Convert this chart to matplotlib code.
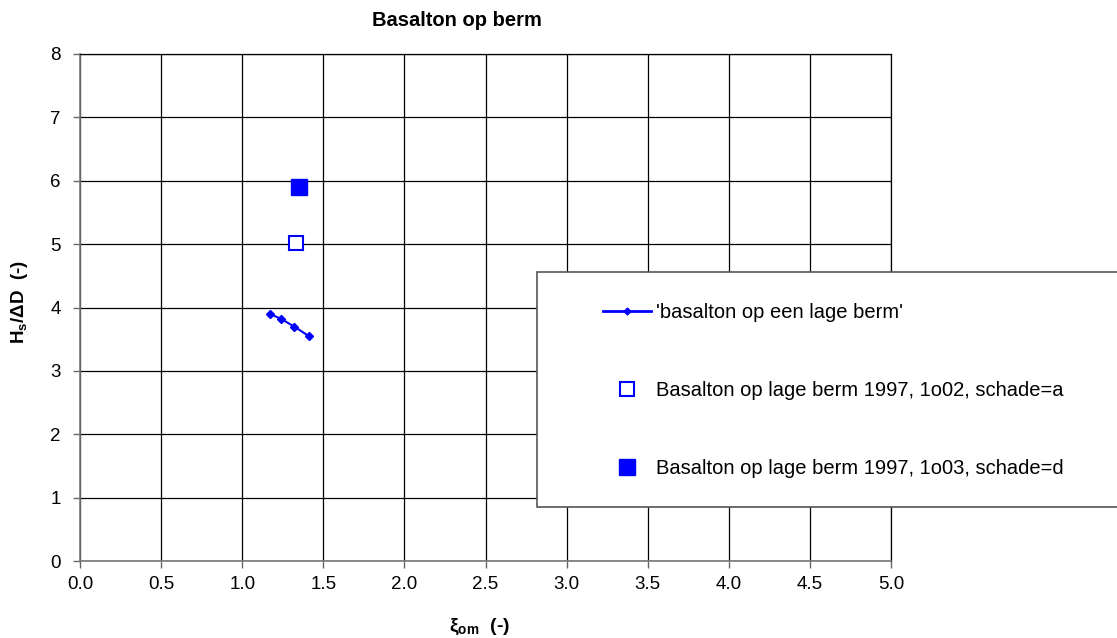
import matplotlib
matplotlib.use("Agg")
import matplotlib.pyplot as plt
from matplotlib.patches import Rectangle
from matplotlib.lines import Line2D

plt.rcParams["font.family"] = ["Liberation Sans", "DejaVu Sans"]
plt.rcParams["mathtext.fontset"] = "custom"
plt.rcParams["mathtext.rm"] = "Liberation Sans"
plt.rcParams["mathtext.it"] = "Liberation Sans"
plt.rcParams["mathtext.bf"] = "Liberation Sans:bold"

# ── Data ──────────────────────────────────────────────────────
lage_berm_xi = [1.17, 1.24, 1.32, 1.41]
lage_berm_hs = [3.90, 3.82, 3.70, 3.55]

test_1o02_xi = [1.33]
test_1o02_hs = [5.02]

test_1o03_xi = [1.35]
test_1o03_hs = [5.90]

labels = [
    "'basalton op een lage berm'",
    "Basalton op lage berm 1997, 1o02, schade=a",
    "Basalton op lage berm 1997, 1o03, schade=d",
]
x_ticks = [0.0, 0.5, 1.0, 1.5, 2.0, 2.5, 3.0, 3.5, 4.0, 4.5, 5.0]
y_ticks = [0, 1, 2, 3, 4, 5, 6, 7, 8]

BLUE = "#0000ff"

fig = plt.figure(figsize=(11.17, 6.38), dpi=100, facecolor="white")
ax = fig.add_axes([80 / 1117, 1 - 561 / 638, 811 / 1117, 507 / 638])

ax.plot(lage_berm_xi, lage_berm_hs, color=BLUE, lw=1.5,
        marker="D", ms=4, zorder=3)
ax.plot(test_1o02_xi, test_1o02_hs, ls="none", marker="s", ms=10,
        mfc="white", mec=BLUE, mew=1.5, zorder=3)
ax.plot(test_1o03_xi, test_1o03_hs, ls="none", marker="s", ms=11,
        mfc=BLUE, mec=BLUE, zorder=3)

ax.set_xlim(0, 5)
ax.set_ylim(0, 8)
ax.set_xticks(x_ticks)
ax.set_yticks(y_ticks)
ax.set_xticklabels([f"{v:.1f}" for v in x_ticks])
ax.set_yticklabels([str(v) for v in y_ticks])
ax.tick_params(direction="out", length=5, width=1, colors="#666666",
               labelcolor="black", labelsize=13.5)
ax.tick_params(axis="x", pad=6)
ax.tick_params(axis="y", pad=9)
ax.grid(True, color="black", lw=0.9)
ax.set_axisbelow(True)
for side in ("left", "bottom"):
    ax.spines[side].set_color("#777777")
    ax.spines[side].set_linewidth(1.2)
for side in ("top", "right"):
    ax.spines[side].set_color("black")
    ax.spines[side].set_linewidth(0.9)

fig.text(457 / 1117, 1 - 21 / 638, "Basalton op berm", ha="center",
         va="center", fontsize=14.5, fontweight="bold")
fig.text(480 / 1117, 1 - 627 / 638, r"$\mathbf{ξ_{om}}$  (-)", ha="center",
         va="center", fontsize=14, fontweight="bold")
fig.text(20 / 1117, 1 - 302 / 638, r"$\mathbf{H_s/ΔD}$  (-)", ha="center",
         va="center", fontsize=13.5, fontweight="bold", rotation=90)

# legend box runs past the right edge of the figure
box = Rectangle((537 / 1117, 1 - 507 / 638), 700 / 1117, 235 / 638,
                transform=fig.transFigure, facecolor="white",
                edgecolor="#555555", lw=1.2, zorder=2)
fig.patches.append(box)

handles = [
    Line2D([], [], color=BLUE, lw=2, marker="D", ms=3.5),
    Line2D([], [], ls="none", marker="s", ms=10, mfc="white", mec=BLUE, mew=1.5),
    Line2D([], [], ls="none", marker="s", ms=11, mfc=BLUE, mec=BLUE),
]
leg = fig.legend(handles, labels, loc="upper left",
                 bbox_to_anchor=(593 / 1117, 1 - 293 / 638),
                 frameon=False, fontsize=14.5, handlelength=2.4,
                 handletextpad=0.25, labelspacing=2.92, borderpad=0)
leg.set_zorder(3)

fig.savefig("out.png", dpi=100, facecolor="white")
